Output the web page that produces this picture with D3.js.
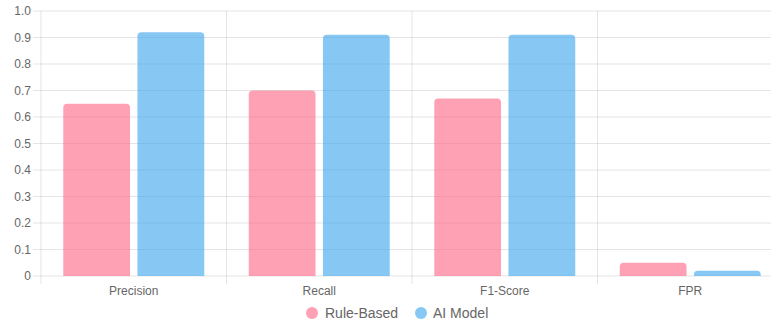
<!DOCTYPE html>
<html>
<head>
<meta charset="utf-8">
<script src="https://cdn.jsdelivr.net/npm/d3@7"></script>
<style>
  html, body { margin: 0; padding: 0; background: #fff; }
  svg { display: block; }
  text { font-family: "Liberation Sans", Arial, sans-serif; fill: #666; }
</style>
</head>
<body>
<svg id="chart" width="771" height="321"></svg>
<script>
// Metrics compared for the two detectors
const metrics = ["Precision", "Recall", "F1-Score", "FPR"];
const ruleBased = [0.65, 0.70, 0.67, 0.05];
const aiModel = [0.92, 0.91, 0.91, 0.02];
const seriesNames = ["Rule-Based", "AI Model"];
const seriesColors = ["rgba(255,99,132,0.6)", "rgba(54,162,235,0.6)"];
const yTicks = [0, 0.1, 0.2, 0.3, 0.4, 0.5, 0.6, 0.7, 0.8, 0.9, 1.0];

const series = [ruleBased, aiModel];
const svg = d3.select("#chart");

const m = { left: 41, right: 783, top: 11, bottom: 276 };

const x = d3.scaleBand().domain(metrics).range([m.left, m.right]);
const inner = d3.scaleBand().domain(d3.range(series.length))
  .range([0, x.bandwidth() * 0.8]);
const barW = inner.bandwidth() * 0.9;
const y = d3.scaleLinear().domain([0, 1]).range([m.bottom, m.top]);

const grid = "rgba(0,0,0,0.1)";

// Horizontal grid lines with small tick marks left of the axis
svg.append("g").selectAll("line").data(yTicks).join("line")
  .attr("x1", m.left - 8).attr("x2", m.right)
  .attr("y1", d => y(d)).attr("y2", d => y(d))
  .attr("stroke", grid).attr("stroke-width", 1);

// Vertical grid lines at category boundaries
const bounds = metrics.map(c => x(c)).concat([m.right]);
svg.append("g").selectAll("line").data(bounds).join("line")
  .attr("x1", d => d).attr("x2", d => d)
  .attr("y1", m.top).attr("y2", m.bottom + 8)
  .attr("stroke", grid).attr("stroke-width", 1);

// Y tick labels
svg.append("g").selectAll("text").data(yTicks).join("text")
  .attr("x", m.left - 10).attr("y", d => y(d))
  .attr("dy", "0.35em").attr("text-anchor", "end")
  .attr("font-size", 12)
  .text(d => d === 0 ? "0" : d.toFixed(1));

// X category labels
svg.append("g").selectAll("text").data(metrics).join("text")
  .attr("x", d => x(d) + x.bandwidth() / 2).attr("y", 291)
  .attr("dy", "0.35em").attr("text-anchor", "middle")
  .attr("font-size", 12)
  .text(d => d);

// Bars with rounded top corners
function barPath(x0, w, yTop, yBase, r) {
  r = Math.min(r, w / 2, yBase - yTop);
  return `M${x0},${yBase}V${yTop + r}Q${x0},${yTop} ${x0 + r},${yTop}` +
    `H${x0 + w - r}Q${x0 + w},${yTop} ${x0 + w},${yTop + r}V${yBase}Z`;
}

series.forEach((vals, si) => {
  svg.append("g").selectAll("path").data(metrics).join("path")
    .attr("d", (c, i) => {
      const x0 = x(c) + x.bandwidth() * 0.1 + inner(si) + (inner.bandwidth() - barW) / 2;
      return barPath(x0, barW, y(vals[i]), y(0), 4);
    })
    .attr("fill", seriesColors[si]);
});

// Legend
const legendItems = [
  { name: seriesNames[0], color: seriesColors[0], cx: 312, tx: 325 },
  { name: seriesNames[1], color: seriesColors[1], cx: 421, tx: 433 }
];
const lg = svg.append("g");
legendItems.forEach(it => {
  lg.append("circle").attr("cx", it.cx).attr("cy", 313).attr("r", 6).attr("fill", it.color);
  lg.append("text").attr("x", it.tx).attr("y", 313).attr("dy", "0.35em")
    .attr("font-size", 14).text(it.name);
});
</script>
</body>
</html>
